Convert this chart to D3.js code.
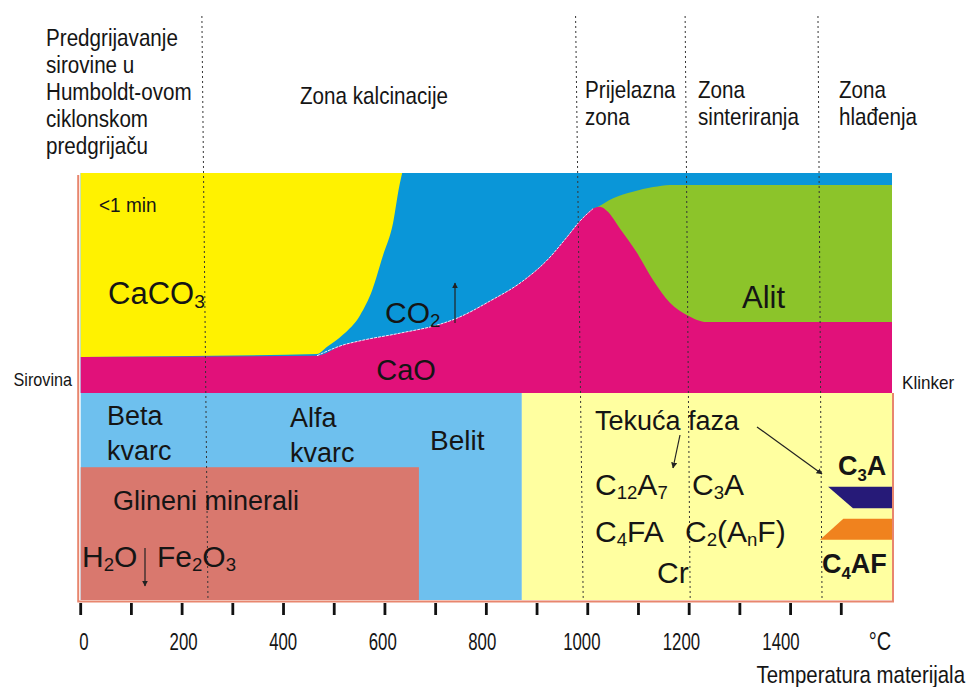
<!DOCTYPE html>
<html>
<head>
<meta charset="utf-8">
<script src="https://cdn.jsdelivr.net/npm/d3@7/dist/d3.min.js"></script>
<style>
  body { margin: 0; background: #fff; }
  svg { display: block; }
  text { font-family: "Liberation Sans", Arial, sans-serif; fill: #151515; }
</style>
</head>
<body>
<div id="chart"></div>
<script>
// values: temperature in °C, share of the column height in %

var tickTemps = [0, 100, 200, 300, 400, 500, 600, 700, 800, 900, 1000, 1100, 1200, 1300, 1400, 1500];
var tickLabels = [0, 200, 400, 600, 800, 1000, 1200, 1400];
var tempMax = 1600;

// zone borders (temperature at top and at bottom, they lean a bit)
var zoneBorders = [[239, 251], [976, 991], [1192, 1202], [1454, 1462]];

var zoneNames = [
    ["Predgrijavanje", "sirovine u", "Humboldt-ovom", "ciklonskom", "predgrijaču"],
    ["Zona kalcinacije"],
    ["Prijelazna", "zona"],
    ["Zona", "sinteriranja"],
    ["Zona", "hlađenja"]
];

// upper part: CaCO3 / CO2 / CaO / Alit
var caoBase = 48.5;
var caoTop = [[0, 56.9], [466, 57.2], [517, 59.7], [551, 60.7], [630, 62.5], [709, 64.6], [742, 66.0],
    [807, 70.0], [872, 74.7], [920, 79.6], [959, 85.0], [985, 88.8], [1010, 91.6], [1024, 92.1],
    [1038, 91.1], [1064, 86.9], [1097, 81.3], [1129, 74.9], [1162, 69.6], [1196, 66.7], [1235, 65.1],
    [1600, 65.1]];
var caco3Bottom = [[0, 56.9], [466, 57.6], [486, 59.3], [517, 62.1], [551, 66.7], [575, 72.6],
    [596, 80.6], [616, 88.3], [628, 96.7], [634, 100]];
var alitTop = [[1010, 91.6], [1018, 92.0], [1050, 94.1], [1089, 95.6], [1129, 96.7], [1162, 97.2], [1600, 97.2]];

// lower part: quartz / clay / belite / liquid phase
var clayTop = 31.1;
var clayEnd = 667;
var quartzEnd = 870;
var c3aShape = [[1474, 26.5], [1600, 26.5], [1600, 21.5], [1523, 21.5]];
var c4afShape = [[1504, 19.0], [1600, 19.0], [1600, 14.1], [1458, 14.1]];

var W = 970, H = 687;
var plotTop = 173, plotBottom = 600;

var x = d3.scaleLinear().domain([0, tempMax]).range([80.7, 892]);
var y = d3.scaleLinear().domain([0, 100]).range([plotBottom, plotTop]);
// the printed tick numbers sit on a slightly tighter spacing than the tick marks
var xLabel = d3.scaleLinear().domain([0, 1400]).range([84, 781]);

var svg = d3.select("#chart").append("svg")
    .attr("width", W)
    .attr("height", H);

function band(t0, t1, v0, v1, color) {
    svg.append("rect")
        .attr("x", x(t0))
        .attr("y", y(v1))
        .attr("width", x(t1) - x(t0))
        .attr("height", y(v0) - y(v1))
        .attr("fill", color);
}

// lower part
band(0, quartzEnd, 0, caoBase, "#6ec0ee");
band(0, clayEnd, 0, clayTop, "#d9786e");
band(quartzEnd, tempMax, 0, caoBase, "#ffffa0");

// upper part, CO2 first as background
band(0, tempMax, caoBase, 100, "#0a96d8");

var caco3Area = d3.area()
    .x(function(d) { return x(d[0]); })
    .y0(function(d) { return y(d[1]); })
    .y1(y(100))
    .curve(d3.curveMonotoneX);
svg.append("path").datum(caco3Bottom).attr("d", caco3Area).attr("fill", "#fff200");

var alitArea = d3.area()
    .x(function(d) { return x(d[0]); })
    .y0(y(caoBase))
    .y1(function(d) { return y(d[1]); })
    .curve(d3.curveMonotoneX);
svg.append("path").datum(alitTop).attr("d", alitArea).attr("fill", "#8cc42a");

var caoArea = d3.area()
    .x(function(d) { return x(d[0]); })
    .y0(y(caoBase))
    .y1(function(d) { return y(d[1]); })
    .curve(d3.curveMonotoneX);
svg.append("path").datum(caoTop).attr("d", caoArea).attr("fill", "#e1117a");

// thin light seam between CaO and CO2
var caoLine = d3.line()
    .x(function(d) { return x(d[0]); })
    .y(function(d) { return y(d[1]); })
    .curve(d3.curveMonotoneX);
svg.append("path")
    .datum(caoTop.filter(function(d) { return d[0] >= 466 && d[0] <= 1010; }))
    .attr("d", caoLine)
    .attr("fill", "none")
    .attr("stroke", "#f4e8f4")
    .attr("stroke-width", 1)
    .attr("stroke-dasharray", "3,1");

// clinker minerals
var shapeLine = d3.line()
    .x(function(d) { return x(d[0]); })
    .y(function(d) { return y(d[1]); });
svg.append("path").attr("d", shapeLine(c3aShape) + "Z").attr("fill", "#261a78");
svg.append("path").attr("d", shapeLine(c4afShape) + "Z").attr("fill", "#f0821e");

// frame
svg.append("path")
    .attr("d", "M" + (x(0) - 2.5) + "," + (plotTop + 2) + "V" + (plotBottom + 1.5) +
        "H" + (x(tempMax) + 1) + "V" + y(caoBase))
    .attr("fill", "none")
    .attr("stroke", "#e8866e")
    .attr("stroke-width", 2);

// zone borders
svg.selectAll(".zone")
    .data(zoneBorders)
    .enter().append("line")
    .attr("class", "zone")
    .attr("x1", function(d) { return x(d[0]); })
    .attr("x2", function(d) { return x(d[1]); })
    .attr("y1", 16)
    .attr("y2", plotBottom)
    .attr("stroke", "#333")
    .attr("stroke-width", 1)
    .attr("stroke-dasharray", "2,3");

// ticks
svg.selectAll(".tick")
    .data(tickTemps)
    .enter().append("line")
    .attr("x1", function(d) { return x(d); })
    .attr("x2", function(d) { return x(d); })
    .attr("y1", 603)
    .attr("y2", 615)
    .attr("stroke", "#111")
    .attr("stroke-width", 2.8);

// text helper: parts are strings or {sub: "x"}
function label(px, py, parts, size, opt) {
    opt = opt || {};
    var t = svg.append("text")
        .attr("transform", "translate(" + px + "," + py + ") scale(" + (opt.sx || 1) + ",1)")
        .attr("font-size", size)
        .attr("text-anchor", opt.anchor || "start")
        .attr("font-weight", opt.bold ? "bold" : null);
    var shift = 0;
    var drop = opt.drop || 0.12;
    if (typeof parts === "string") parts = [parts];
    parts.forEach(function(p) {
        if (typeof p === "string") {
            t.append("tspan").attr("dy", -shift).text(p);
            shift = 0;
        } else {
            var s = size * drop;
            t.append("tspan").attr("dy", s - shift).attr("font-size", size * 0.62).text(p.sub);
            shift = s;
        }
    });
    return t;
}

tickLabels.forEach(function(d) {
    label(xLabel(d), 650, String(d), 24, {anchor: "middle", sx: 0.7});
});
label(880, 650, "°C", 25, {anchor: "middle", sx: 0.8});
label(965, 683, "Temperatura materijala", 24, {anchor: "end", sx: 0.85});

// zone names
var zoneX = [46, 300, 585, 698, 839];
var zoneY = [46, 104, 98, 98, 98];
zoneNames.forEach(function(lines, i) {
    lines.forEach(function(s, j) {
        label(zoneX[i], zoneY[i] + j * 27, s, 24, {sx: 0.86});
    });
});

label(72, 386, "Sirovina", 18, {anchor: "end", sx: 0.9});
label(902, 389, "Klinker", 18, {sx: 0.95});

// upper labels
label(99, 212, "<1 min", 20, {sx: 0.95});
label(108, 304, ["CaCO", {sub: "3"}], 31);
label(385, 323, ["CO", {sub: "2"}], 30);
label(406, 380, "CaO", 29, {anchor: "middle"});
label(742, 308, "Alit", 31);

// lower labels
label(107, 425, "Beta", 27);
label(107, 460, "kvarc", 27);
label(290, 427, "Alfa", 27);
label(290, 462, "kvarc", 27);
label(430, 450, "Belit", 28);
label(113, 510, "Glineni minerali", 27);
label(82, 567, ["H", {sub: "2"}, "O"], 30);
label(157, 567, ["Fe", {sub: "2"}, "O", {sub: "3"}], 30);
label(595, 430, "Tekuća faza", 27);
label(595, 495, ["C", {sub: "12"}, "A", {sub: "7"}], 30);
label(692, 495, ["C", {sub: "3"}, "A"], 30);
label(595, 542, ["C", {sub: "4"}, "FA"], 30);
label(685, 542, ["C", {sub: "2"}, "(A", {sub: "n"}, "F)"], 30);
label(657, 583, "Cr", 30);
label(838, 475, ["C", {sub: "3"}, "A"], 27, {bold: true, drop: 0.22});
label(822, 573, ["C", {sub: "4"}, "AF"], 27, {bold: true, drop: 0.22});

// arrows
var defs = svg.append("defs");
defs.append("marker")
    .attr("id", "head")
    .attr("viewBox", "0 0 10 10")
    .attr("refX", 9).attr("refY", 5)
    .attr("markerWidth", 5).attr("markerHeight", 5)
    .attr("orient", "auto")
    .append("path").attr("d", "M0,0L10,5L0,10Z").attr("fill", "#222");

var arrows = [[455, 323, 455, 283], [145, 548, 145, 586], [680, 435, 673, 468], [757, 427, 822, 474]];
arrows.forEach(function(a) {
    svg.append("line")
        .attr("x1", a[0]).attr("y1", a[1])
        .attr("x2", a[2]).attr("y2", a[3])
        .attr("stroke", "#222")
        .attr("stroke-width", 1.2)
        .attr("marker-end", "url(#head)");
});
</script>
</body>
</html>
